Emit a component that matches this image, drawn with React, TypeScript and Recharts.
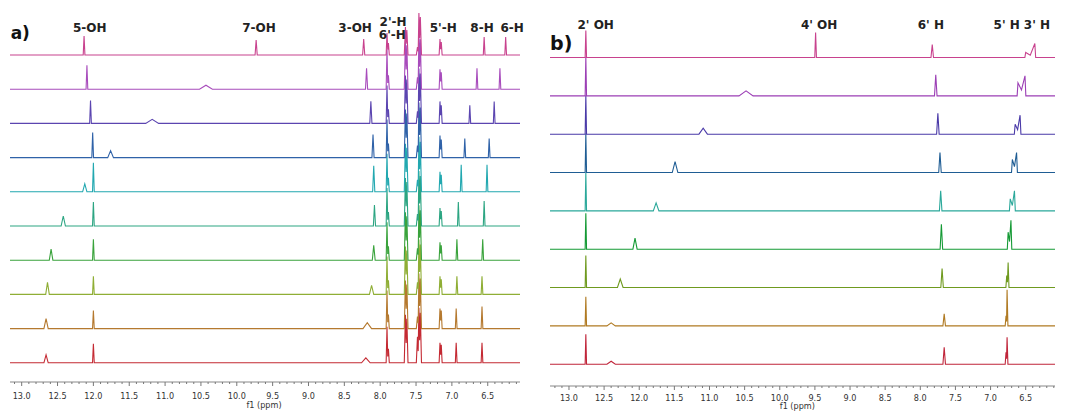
import React from 'react';
import { LineChart, Line, XAxis, YAxis, ReferenceDot } from 'recharts';

// ---------- Panel a) : 10 stacked spectra, top -> bottom ----------
const A_COLORS = ['#c8428e', '#a84cbc', '#5b45b0', '#2f62a8', '#22a8b0', '#2ca582', '#3aa33c', '#8fae35', '#b5792f', '#c42a33'];
const A_OH5_PPM = [12.13, 12.09, 12.04, 12.01, 12.0, 12.0, 12.0, 12.0, 12.0, 12.0];
const A_OH5_H = [19, 24, 23, 25, 29, 24, 21, 18, 18, 19];
const A_OH7_PPM = [9.73, 10.43, 11.18, 11.76, 12.12, 12.42, 12.59, 12.64, 12.66, 12.66];
const A_OH7_H = [15, 4, 4, 7, 8, 10, 11, 12, 10, 8];
const A_OH7_W = [0.015, 0.09, 0.09, 0.04, 0.03, 0.03, 0.025, 0.025, 0.03, 0.03];
const A_OH3_PPM = [8.23, 8.19, 8.13, 8.1, 8.09, 8.08, 8.09, 8.12, 8.18, 8.2];
const A_OH3_H = [16, 21, 22, 23, 26, 21, 15, 9, 6, 5];
const A_OH3_W = [0.015, 0.015, 0.015, 0.015, 0.015, 0.015, 0.02, 0.03, 0.06, 0.06];
const A_H2_PPM = [7.905, 7.885];
const A_H2_H = [22, 40, 38, 38, 38, 38, 38, 38, 38, 36];
const A_H2B_H = [12, 14, 14, 14, 14, 14, 14, 14, 14, 14];
const A_T1_PPM = [7.648, 7.628];
const A_T1_H = [28, 48, 48, 48, 48, 48, 48, 48, 48, 48];
const A_T1B_H = [25, 44, 44, 44, 44, 44, 44, 44, 44, 44];
const A_T2_PPM = [7.48, 7.46, 7.44];
const A_T2S_H = [8, 12, 12, 12, 12, 12, 12, 12, 12, 26];
const A_T2_H = [42, 55, 55, 55, 55, 55, 55, 55, 55, 55];
const A_T2B_H = [38, 50, 50, 50, 50, 50, 50, 50, 50, 50];
const A_H5_PPM = [7.166, 7.148];
const A_H5_H = [16, 20, 22, 22, 20, 18, 18, 18, 20, 20];
const A_H5B_H = [13, 17, 18, 18, 17, 15, 15, 15, 18, 18];
const A_H8_PPM = [6.55, 6.65, 6.75, 6.82, 6.87, 6.91, 6.93, 6.93, 6.94, 6.94];
const A_H8_H = [18, 21, 18, 19, 27, 24, 21, 18, 20, 20];
const A_H6_PPM = [6.25, 6.33, 6.41, 6.48, 6.51, 6.55, 6.57, 6.58, 6.58, 6.58];
const A_H6_H = [18, 21, 22, 19, 27, 25, 21, 18, 22, 20];
const A_LABELS = ['5-OH', '7-OH', '3-OH', "2'-H", "6'-H", "5'-H", '8-H', '6-H'];
const A_LABEL_PPM = [12.05, 9.69, 8.35, 7.82, 7.83, 7.12, 6.58, 6.16];
const A_LABEL_Y = [354, 354, 354, 360, 347, 354, 354, 354];

// ---------- Panel b) : 9 stacked spectra, top -> bottom ----------
const B_COLORS = ['#c8428e', '#9c3fb5', '#4a3aa8', '#1f5d94', '#2aa89a', '#159a35', '#6f9a1f', '#b07a22', '#c0253a'];
const B_OH2_PPM = [12.76, 12.76, 12.76, 12.76, 12.76, 12.76, 12.76, 12.76, 12.76];
const B_OH2_H = [27, 39, 39, 39, 38, 36, 32, 29, 30];
const B_OH4_PPM = [9.49, 10.48, 11.09, 11.49, 11.76, 12.06, 12.27, 12.4, 12.4];
const B_OH4_H = [25, 5, 6, 11, 8, 11, 8.5, 3, 3];
const B_OH4_W = [0.012, 0.1, 0.06, 0.04, 0.04, 0.03, 0.04, 0.06, 0.06];
const B_H6_PPM = [7.83, 7.78, 7.75, 7.72, 7.71, 7.7, 7.69, 7.66, 7.66];
const B_H6_H = [13, 21, 21, 20, 20, 25, 19, 12, 17];
const B_H5_PPM = [6.5, 6.61, 6.65, 6.69, 6.72, 6.75, 6.77, 6.78, 6.78];
const B_H5_H = [5, 13, 10, 13, 12, 17, 12, 10, 12];
const B_H3_PPM = [6.37, 6.51, 6.58, 6.63, 6.66, 6.71, 6.75, 6.765, 6.765];
const B_H3_H = [14, 20, 19, 20, 20, 29, 25, 36, 27];
const B_LABELS = ["2' OH", "4' OH", "6' H", "5' H", "3' H"];
const B_LABEL_PPM = [12.62, 9.44, 7.85, 6.77, 6.34];
const B_LABEL_Y = [361, 361, 361, 361, 361];

// layout constants
const A_DOMAIN: [number, number] = [6.05, 13.163];
const B_DOMAIN: [number, number] = [6.083, 13.27];
const A_PLOT_H = 382;
const A_BASE_TOP = 55;
const A_STEP = 34.2;
const B_PLOT_H = 386;
const B_BASE_TOP = 57.5;
const B_STEP = 38.34;

type Stick = [number, number];
type Signal = { sticks: Stick[]; w: number };

function buildSpectrum(signals: Signal[], dom: [number, number], base: number) {
  const pts: { x: number; y: number }[] = [{ x: dom[1], y: base }];
  const sorted = signals
    .map((s) => ({ ...s, sticks: s.sticks.slice().sort((a, b) => b[0] - a[0]) }))
    .sort((a, b) => b.sticks[0][0] - a.sticks[0][0]);
  for (const s of sorted) {
    const st = s.sticks;
    pts.push({ x: st[0][0] + s.w, y: base });
    st.forEach((k, i) => {
      if (i > 0) {
        const p = st[i - 1];
        pts.push({ x: (p[0] + k[0]) / 2, y: base + Math.min(p[1], k[1]) * 0.45 });
      }
      pts.push({ x: k[0], y: base + k[1] });
    });
    pts.push({ x: st[st.length - 1][0] - s.w, y: base });
  }
  pts.push({ x: dom[0], y: base });
  return pts;
}

const A_SPECTRA = A_COLORS.map((c, i) => {
  const base = A_PLOT_H - (A_BASE_TOP + i * A_STEP);
  const signals: Signal[] = [
    { sticks: [[A_OH5_PPM[i], A_OH5_H[i]]], w: 0.012 },
    { sticks: [[A_OH7_PPM[i], A_OH7_H[i]]], w: A_OH7_W[i] },
    { sticks: [[A_OH3_PPM[i], A_OH3_H[i]]], w: A_OH3_W[i] },
    { sticks: [[A_H2_PPM[0], A_H2_H[i]], [A_H2_PPM[1], A_H2B_H[i]]], w: 0.012 },
    { sticks: [[A_T1_PPM[0], A_T1_H[i]], [A_T1_PPM[1], A_T1B_H[i]]], w: 0.016 },
    { sticks: [[A_T2_PPM[0], A_T2S_H[i]], [A_T2_PPM[1], A_T2_H[i]], [A_T2_PPM[2], A_T2B_H[i]]], w: 0.016 },
    { sticks: [[A_H5_PPM[0], A_H5_H[i]], [A_H5_PPM[1], A_H5B_H[i]]], w: 0.012 },
    { sticks: [[A_H8_PPM[i], A_H8_H[i]]], w: 0.012 },
    { sticks: [[A_H6_PPM[i], A_H6_H[i]]], w: 0.012 },
  ];
  return { color: c, data: buildSpectrum(signals, A_DOMAIN, base) };
});

const B_SPECTRA = B_COLORS.map((c, i) => {
  const base = B_PLOT_H - (B_BASE_TOP + i * B_STEP);
  const signals: Signal[] = [
    { sticks: [[B_OH2_PPM[i], B_OH2_H[i]]], w: 0.01 },
    { sticks: [[B_OH4_PPM[i], B_OH4_H[i]]], w: B_OH4_W[i] },
    { sticks: [[B_H6_PPM[i], B_H6_H[i]]], w: 0.018 },
    { sticks: [[B_H5_PPM[i], B_H5_H[i]], [B_H3_PPM[i], B_H3_H[i]]], w: 0.012 },
  ];
  return { color: c, data: buildSpectrum(signals, B_DOMAIN, base) };
});

function tickList(dom: [number, number]) {
  const out: number[] = [];
  for (let t = Math.ceil(dom[0] * 10); t <= Math.floor(dom[1] * 10); t++) out.push(t / 10);
  return out;
}

const AXIS_FONT = "'DejaVu Sans Condensed', 'DejaVu Sans', sans-serif";
const LABEL_FONT = "'DejaVu Sans', sans-serif";

const makeTick = (labelDy: number) => (props: any) => {
  const { x, y, payload } = props;
  const v = Number(payload.value);
  const major = Math.abs(v * 2 - Math.round(v * 2)) < 1e-6;
  return (
    <g>
      <line x1={x} x2={x} y1={y} y2={y + (major ? 4 : 2)} stroke="#777" strokeWidth={1} />
      {major && (
        <text x={x} y={y + labelDy} textAnchor="middle" fontSize={9} fontFamily={AXIS_FONT} fill="#333">
          {v.toFixed(1)}
        </text>
      )}
    </g>
  );
};

function Panel(props: {
  spectra: { color: string; data: { x: number; y: number }[] }[];
  domain: [number, number];
  plotH: number;
  width: number;
  margin: { top: number; right: number; left: number; bottom: number };
  labelDy: number;
  labels: string[];
  labelPpm: number[];
  labelY: number[];
  tag: string;
  tagPpm: number;
  tagY: number;
  tagSize: number;
  unitPpm: number;
  unitY: number;
}) {
  const { spectra, domain, plotH } = props;
  const order = spectra.map((s, i) => ({ ...s, i })).reverse();
  return (
    <LineChart width={props.width} height={413} margin={props.margin}>
      <XAxis
        type="number"
        dataKey="x"
        domain={domain}
        allowDataOverflow
        reversed
        ticks={tickList(domain)}
        interval={0}
        tickLine={false}
        tickSize={0}
        tickMargin={0}
        height={413 - plotH}
        axisLine={{ stroke: '#888', strokeWidth: 1 }}
        tick={makeTick(props.labelDy)}
      />
      <YAxis hide type="number" domain={[0, plotH]} allowDataOverflow />
      {order.map((s) => (
        <Line
          key={s.i}
          data={s.data}
          dataKey="y"
          type="linear"
          stroke={s.color}
          strokeWidth={1.1}
          dot={false}
          activeDot={false}
          isAnimationActive={false}
        />
      ))}
      {props.labels.map((t, k) => (
        <ReferenceDot
          key={t}
          x={props.labelPpm[k]}
          y={props.labelY[k]}
          r={0}
          fill="none"
          stroke="none"
          ifOverflow="visible"
          label={{ value: t, position: 'center', fill: '#222', fontSize: 12, fontWeight: 'bold', fontFamily: LABEL_FONT }}
        />
      ))}
      <ReferenceDot
        x={props.tagPpm}
        y={props.tagY}
        r={0}
        fill="none"
        stroke="none"
        ifOverflow="visible"
        label={{ value: props.tag, position: 'center', fill: '#111', fontSize: props.tagSize, fontWeight: 'bold', fontFamily: LABEL_FONT }}
      />
      <ReferenceDot
        x={props.unitPpm}
        y={props.unitY}
        r={0}
        fill="none"
        stroke="none"
        ifOverflow="visible"
        label={{ value: 'f1 (ppm)', position: 'center', fill: '#333', fontSize: 9, fontFamily: AXIS_FONT }}
      />
    </LineChart>
  );
}

export default function App() {
  return (
    <div style={{ position: 'absolute', left: 0, top: 0, width: 1067, height: 413, background: '#fff' }}>
      <div style={{ position: 'absolute', left: 0, top: 0 }}>
        <Panel
          spectra={A_SPECTRA}
          domain={A_DOMAIN}
          plotH={A_PLOT_H}
          width={530}
          margin={{ top: 0, right: 10, left: 10, bottom: 0 }}
          labelDy={17}
          labels={A_LABELS}
          labelPpm={A_LABEL_PPM}
          labelY={A_LABEL_Y}
          tag="a)"
          tagPpm={13.02}
          tagY={349}
          tagSize={17}
          unitPpm={9.62}
          unitY={-23}
        />
      </div>
      <div style={{ position: 'absolute', left: 530, top: 0 }}>
        <Panel
          spectra={B_SPECTRA}
          domain={B_DOMAIN}
          plotH={B_PLOT_H}
          width={537}
          margin={{ top: 0, right: 12, left: 20, bottom: 0 }}
          labelDy={15}
          labels={B_LABELS}
          labelPpm={B_LABEL_PPM}
          labelY={B_LABEL_Y}
          tag="b)"
          tagPpm={13.11}
          tagY={343}
          tagSize={19}
          unitPpm={9.75}
          unitY={-20}
        />
      </div>
    </div>
  );
}
